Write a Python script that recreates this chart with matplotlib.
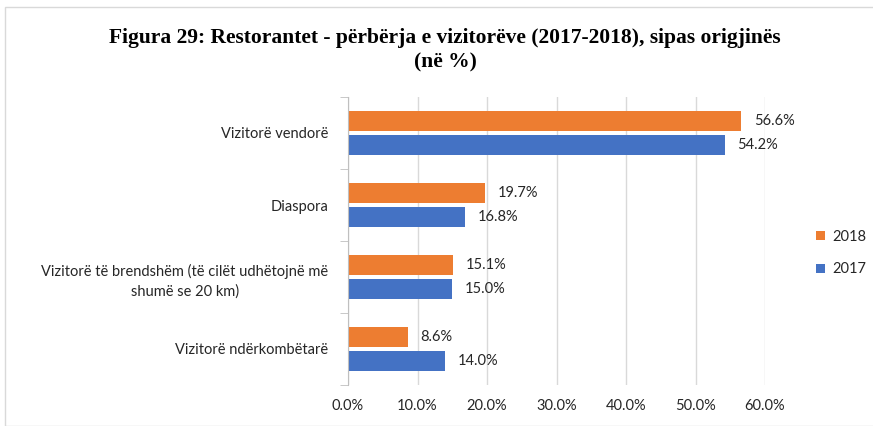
import matplotlib
matplotlib.use("Agg")
import matplotlib.pyplot as plt
import numpy as np
from matplotlib.patches import Rectangle

categories = ["Vizitorë vendorë", "Diaspora",
              "Vizitorë të brendshëm (të cilët udhëtojnë më\nshumë se 20 km)",
              "Vizitorë ndërkombëtarë"]
v2018 = [56.6, 19.7, 15.1, 8.6]
v2017 = [54.2, 16.8, 15.0, 14.0]
xticks = [0, 10, 20, 30, 40, 50, 60]

W, H = 873, 426
fig = plt.figure(figsize=(W/100, H/100), dpi=100)
fig.patches.append(Rectangle((5/W, 0), 1, 1 - 7/H, transform=fig.transFigure,
                             fill=False, edgecolor="#D9D9D9", lw=1))
ax = fig.add_axes([348/W, 1 - 385/H, (765-348)/W, (385-97)/H])

orange = "#ED7D31"
blue = "#4472C4"
y = np.arange(len(categories))
bw = 0.28
gap = 0.05
ax.barh(y - (bw+gap)/2, v2018, height=bw, color=orange, label="2018")
ax.barh(y + (bw+gap)/2, v2017, height=bw, color=blue, label="2017")

lab_font = dict(family="Lato", fontsize=10.5, color="#262626")
for i in range(len(categories)):
    ax.annotate(f"{v2018[i]:.1f}%", (v2018[i], y[i] - (bw+gap)/2), xytext=(9, 0),
                textcoords="offset points", va="center", ha="left", **lab_font)
    ax.annotate(f"{v2017[i]:.1f}%", (v2017[i], y[i] + (bw+gap)/2), xytext=(9, 0),
                textcoords="offset points", va="center", ha="left", **lab_font)

ax.set_ylim(len(categories) - 0.5, -0.5)
ax.set_xlim(0, 60)
ax.set_xticks(xticks)
ax.set_xticklabels([f"{t:.1f}%" for t in xticks], **lab_font)
ax.set_yticks(y)
ax.set_yticklabels(categories, ha="right", multialignment="center", linespacing=1.5, **lab_font)
ax.tick_params(axis="y", length=0, pad=14)
ax.set_yticks(np.arange(-0.5, len(categories), 1), minor=True)
ax.tick_params(axis="y", which="minor", length=6, color="#BFBFBF")
ax.tick_params(axis="x", length=0, pad=10)
ax.grid(axis="x", color="#D9D9D9", lw=1)
ax.set_axisbelow(True)
for s in ["top", "right", "bottom"]:
    ax.spines[s].set_visible(False)
ax.spines["left"].set_color("#BFBFBF")

handles, labels = ax.get_legend_handles_labels()
leg = fig.legend(handles, labels, loc="center left", bbox_to_anchor=(816/W, 1 - 253/H),
                 frameon=False, handlelength=0.6, handleheight=0.6, handletextpad=0.5,
                 labelspacing=1.3, borderpad=0, borderaxespad=0,
                 prop=dict(family="Lato", size=10.5))
for t in leg.get_texts():
    t.set_color("#262626")

fig.text(0.51, 1 - 50/H, "Figura 29: Restorantet - përbërja e vizitorëve (2017-2018), sipas origjinës\n(në %)",
         ha="center", va="center", family="Liberation Serif", fontweight="bold", fontsize=15.5,
         linespacing=1.3)

fig.savefig("out.png", dpi=100)
